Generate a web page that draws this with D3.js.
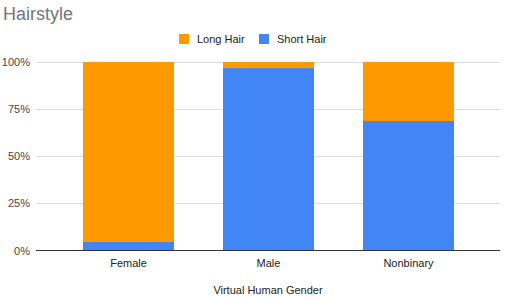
<!DOCTYPE html>
<html><head><meta charset="utf-8">
<script src="https://cdn.jsdelivr.net/npm/d3@7"></script>
<style>body{margin:0;background:#fff}svg{display:block}text{font-family:"Liberation Sans",Arial,sans-serif}</style>
</head><body>
<svg id="c" width="505" height="297"></svg>
<script>
const categories = ["Female", "Male", "Nonbinary"];
const seriesNames = ["Short Hair", "Long Hair"];
const shortHair = [4.5, 96.8, 68.7];
const longHair = [95.5, 3.2, 31.3];
const yTicks = [0, 25, 50, 75, 100];
const tickLabels = ["0%", "25%", "50%", "75%", "100%"];
const colors = {"Long Hair": "#ff9900", "Short Hair": "#4285f4"};

const svg = d3.select("#c");
const x = d3.scaleBand().domain(categories).range([58.5, 478.5]).paddingInner(0.35).paddingOuter(0.175);
const y = d3.scaleLinear().domain([0, 100]).range([250.5, 62]);

svg.append("text").attr("x", 3).attr("y", 20).attr("font-size", 18).attr("fill", "#757575").text("Hairstyle");

// gridlines
svg.append("g").selectAll("line").data(yTicks.filter(d => d > 0)).join("line")
  .attr("x1", 36).attr("x2", 500).attr("y1", d => Math.round(y(d)) + 0.5).attr("y2", d => Math.round(y(d)) + 0.5)
  .attr("stroke", "#dddddd").attr("stroke-width", 1);

svg.append("g").selectAll("text").data(yTicks).join("text")
  .attr("x", 30).attr("y", d => y(d) + 4).attr("text-anchor", "end").attr("font-size", 11).attr("fill", "#444")
  .text((d, i) => tickLabels[i]);

const rows = categories.map((c, i) => ({cat: c, "Short Hair": shortHair[i], "Long Hair": longHair[i]}));
const stack = d3.stack().keys(seriesNames)(rows);
svg.append("g").selectAll("g").data(stack).join("g").attr("fill", d => colors[d.key])
  .selectAll("rect").data(d => d).join("rect")
  .attr("x", d => x(d.data.cat)).attr("width", x.bandwidth())
  .attr("y", d => y(d[1])).attr("height", d => y(d[0]) - y(d[1]));

// baseline
svg.append("line").attr("x1", 36).attr("x2", 500).attr("y1", 250.5).attr("y2", 250.5).attr("stroke", "#333").attr("stroke-width", 1);

svg.append("g").selectAll("text").data(categories).join("text")
  .attr("x", d => x(d) + x.bandwidth() / 2).attr("y", 267).attr("text-anchor", "middle")
  .attr("font-size", 11).attr("fill", "#222").text(d => d);

svg.append("text").attr("x", 268).attr("y", 294).attr("text-anchor", "middle").attr("font-size", 11).attr("fill", "#222").text("Virtual Human Gender");

// legend
const legend = [{name: "Long Hair", x: 179}, {name: "Short Hair", x: 259}];
const lg = svg.append("g").selectAll("g").data(legend).join("g");
lg.append("rect").attr("x", d => d.x).attr("y", 34).attr("width", 10).attr("height", 10).attr("fill", d => colors[d.name]);
lg.append("text").attr("x", d => d.x + 18).attr("y", 43).attr("font-size", 11).attr("fill", "#222").text(d => d.name);
</script>
</body></html>
